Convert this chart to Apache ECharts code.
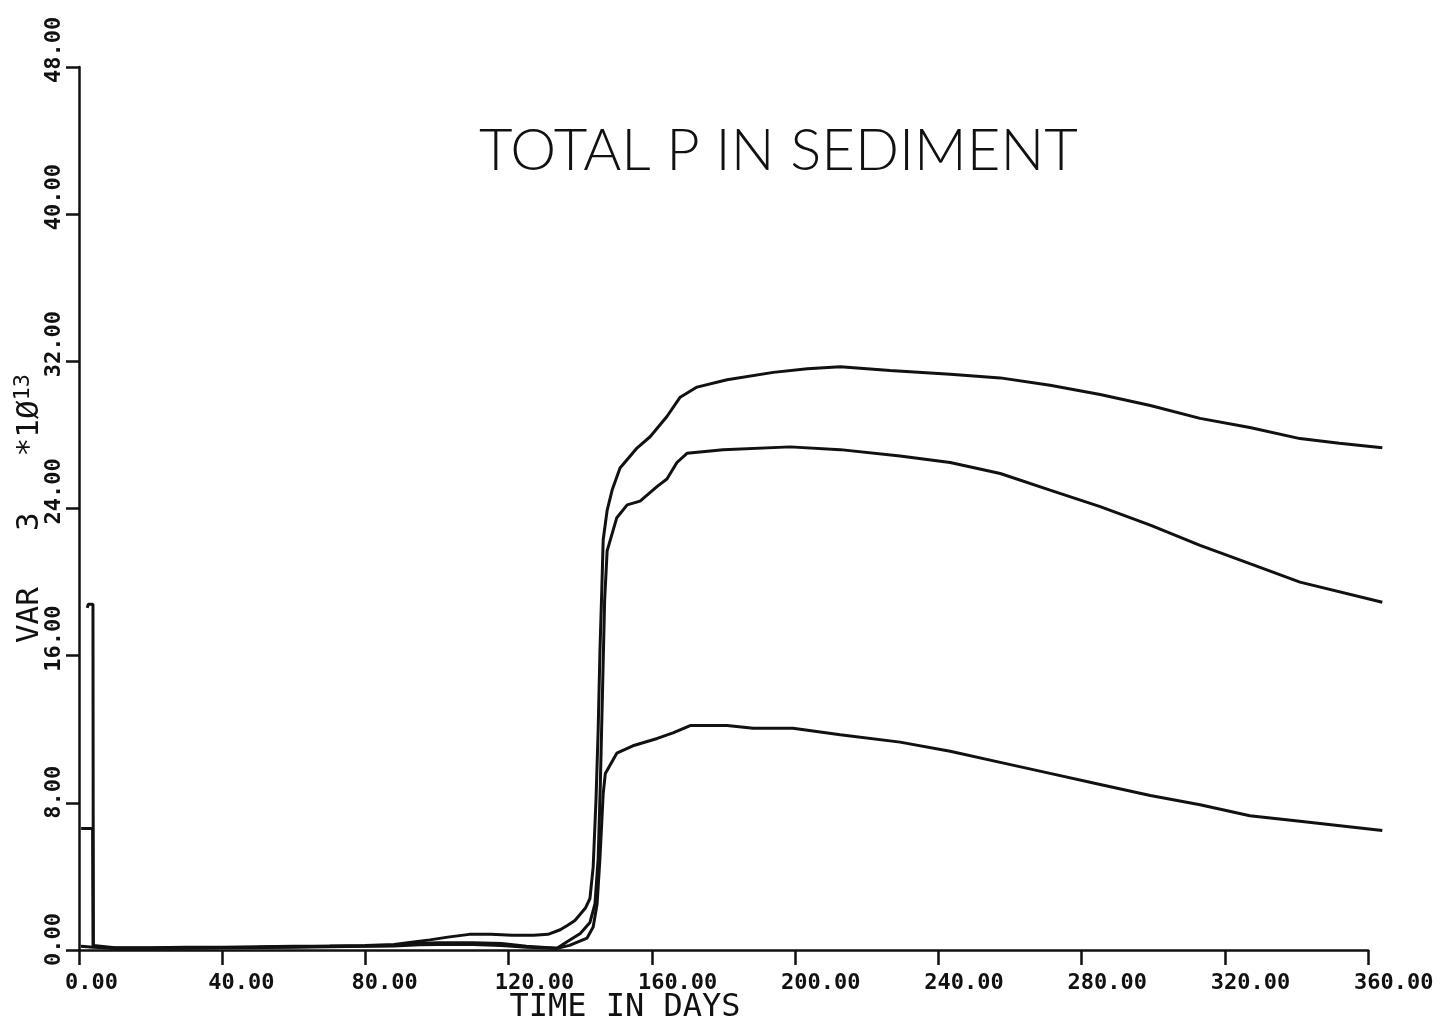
<!DOCTYPE html>
<html>
<head>
<meta charset="utf-8">
<script src="https://cdn.jsdelivr.net/npm/echarts@6/dist/echarts.min.js"></script>
<style>
html,body{margin:0;padding:0;background:#fff;}
#chart{width:1445px;height:1023px;}
</style>
</head>
<body>
<div id="chart"></div>
<script>
// ---- data ----
const titleText = 'TOTAL P IN SEDIMENT';
const xAxisTitle = 'TIME IN DAYS';
const xTickValues = [0, 40, 80, 120, 160, 200, 240, 280, 320, 360];
const xTickLabels = ['0.00', '40.00', '80.00', '120.00', '160.00', '200.00', '240.00', '280.00', '320.00', '360.00'];
const yTickValues = [0, 8, 16, 24, 32, 40, 48];
const yTickLabels = ['0.00', '8.00', '16.00', '24.00', '32.00', '40.00', '48.00'];

const daysA = [2.3, 2.6, 3.9, 4.0, 10, 20, 30, 40, 50, 60, 70, 80, 88, 94, 98, 103, 109, 115, 121, 127, 131, 134.4, 136.5, 138.5, 139.8, 141.5, 142.7, 143.6, 144.4, 145.0, 145.5, 146.0, 146.4, 147.5, 148.9, 151.1, 155.9, 159.5, 164.2, 167.9, 172.6, 181, 193.9, 203.4, 212.6, 226.5, 243.3, 257.3, 271.2, 285.2, 299.2, 313.1, 327, 341, 352, 364];
const valsA = [18.6, 18.8, 18.8, 0.25, 0.12, 0.12, 0.15, 0.15, 0.18, 0.2, 0.22, 0.25, 0.3, 0.45, 0.55, 0.7, 0.85, 0.85, 0.8, 0.8, 0.85, 1.1, 1.35, 1.6, 1.9, 2.3, 2.8, 4.5, 8.2, 12, 16.3, 19.5, 22.3, 23.9, 25.0, 26.2, 27.3, 27.9, 29.0, 30.05, 30.6, 31.0, 31.4, 31.6, 31.7, 31.5, 31.3, 31.1, 30.7, 30.2, 29.6, 28.9, 28.4, 27.8, 27.55, 27.3];

const daysB = [0.6, 3.8, 3.95, 10, 20, 30, 40, 50, 60, 70, 80, 88, 95, 100, 110, 118, 125, 133.5, 136.3, 140, 142.7, 144.1, 145.0, 145.6, 146.2, 146.8, 147.5, 150.2, 153.1, 156.7, 161.5, 164.2, 167, 169.8, 179.9, 198.6, 212.6, 229.3, 243.3, 257.3, 271.2, 285.2, 299.2, 313.1, 327, 341, 364];
const valsB = [6.6, 6.6, 0.2, 0.1, 0.1, 0.12, 0.13, 0.15, 0.18, 0.2, 0.22, 0.25, 0.35, 0.4, 0.4, 0.35, 0.2, 0.1, 0.45, 0.9, 1.5, 2.5, 5, 9, 14, 19, 21.7, 23.5, 24.2, 24.4, 25.2, 25.6, 26.5, 27.0, 27.2, 27.35, 27.2, 26.85, 26.5, 25.9, 25.0, 24.1, 23.1, 22.0, 21.0, 20.0, 18.9];

const daysC = [0.5, 4, 10, 20, 30, 40, 50, 60, 70, 80, 88, 95, 100, 110, 118, 125, 133.5, 137, 141.9, 143.6, 144.7, 145.5, 146.4, 147, 150.2, 154.7, 161.5, 165.9, 170.7, 181, 188.3, 199.4, 212.6, 229.3, 243.3, 257.3, 271.2, 285.2, 299.2, 313.1, 327, 341, 364];
const valsC = [0.2, 0.15, 0.1, 0.1, 0.1, 0.12, 0.13, 0.15, 0.17, 0.2, 0.22, 0.28, 0.3, 0.3, 0.25, 0.15, 0.1, 0.25, 0.65, 1.25, 2.5, 5, 8.5, 9.6, 10.7, 11.1, 11.5, 11.8, 12.2, 12.2, 12.05, 12.05, 11.7, 11.3, 10.8, 10.2, 9.6, 9.0, 8.4, 7.9, 7.3, 7.0, 6.5];

// ---- chart ----
function pairs(xs, ys) { return xs.map((x, i) => [x, ys[i]]); }
const ink = '#111';
const mono = 'DejaVu Sans Mono';

// plot area: x 0..360 spans px 79..1368; data runs a little past 360 (to ~364),
// so the curves use a second, hidden grid with the same scale extended to 364.
const plotLeft = 79, plotRight360 = 1368, W = 1445, H = 1023;
const pxPerDay = (plotRight360 - plotLeft) / 360;
const dataMax = 364;
const grid2Right = W - (plotLeft + dataMax * pxPerDay);

function lineSeries(xs, ys) {
  return {
    type: 'line', data: pairs(xs, ys), showSymbol: false, symbol: 'none',
    xAxisIndex: 1, yAxisIndex: 1, clip: false, smooth: false,
    lineStyle: { color: ink, width: 3 }, z: 3
  };
}

const chart = echarts.init(document.getElementById('chart'), null, { renderer: 'canvas' });
chart.setOption({
  animation: false,
  backgroundColor: '#fff',
  title: {
    text: titleText, left: 474, top: 117,
    textStyle: { fontFamily: 'Lato', fontWeight: 300, fontSize: 58, color: ink }
  },
  grid: [
    { left: plotLeft, right: W - plotRight360, top: 67, bottom: 73, outerBoundsMode: 'none', containLabel: false },
    { left: plotLeft, right: grid2Right, top: 67, bottom: 73, outerBoundsMode: 'none', containLabel: false }
  ],
  xAxis: [{
    gridIndex: 0, type: 'value', min: 0, max: 360, interval: 40,
    name: xAxisTitle, nameLocation: 'middle', nameGap: 42, nameMoveOverlap: false,
    nameTextStyle: { fontFamily: mono, fontSize: 32, color: ink, padding: [0, 197, 0, 0] },
    axisLine: { show: true, onZero: false, lineStyle: { color: ink, width: 2.5 } },
    axisTick: { show: true, length: 15, lineStyle: { color: ink, width: 2.5 } },
    splitLine: { show: false },
    axisLabel: {
      margin: 22, align: 'left', padding: [0, 0, 0, -14],
      fontFamily: mono, fontWeight: 'bold', fontSize: 22, color: ink,
      formatter: v => xTickLabels[xTickValues.indexOf(v)]
    }
  }, {
    gridIndex: 1, type: 'value', min: 0, max: dataMax, show: false
  }],
  yAxis: [{
    gridIndex: 0, type: 'value', min: 0, max: 48, interval: 8,
    name: '{m|VAR   3   *1Ø}{s|13}', nameLocation: 'middle', nameRotate: 90, nameGap: 31,
    nameMoveOverlap: false,
    nameTextStyle: {
      rich: {
        m: { fontFamily: mono, fontSize: 31, lineHeight: 36, color: ink },
        s: { fontFamily: mono, fontSize: 22, lineHeight: 22, color: ink, verticalAlign: 'top' }
      }
    },
    axisLine: { show: true, onZero: false, lineStyle: { color: ink, width: 2.5 } },
    axisTick: { show: true, length: 13, lineStyle: { color: ink, width: 2.5 } },
    splitLine: { show: false },
    axisLabel: {
      rotate: 90, margin: 14, align: 'left', padding: [0, 0, 0, -16],
      fontFamily: mono, fontWeight: 'bold', fontSize: 22, color: ink,
      formatter: v => yTickLabels[yTickValues.indexOf(v)]
    }
  }, {
    gridIndex: 1, type: 'value', min: 0, max: 48, show: false
  }],
  series: [lineSeries(daysA, valsA), lineSeries(daysB, valsB), lineSeries(daysC, valsC)]
});
</script>
</body>
</html>
